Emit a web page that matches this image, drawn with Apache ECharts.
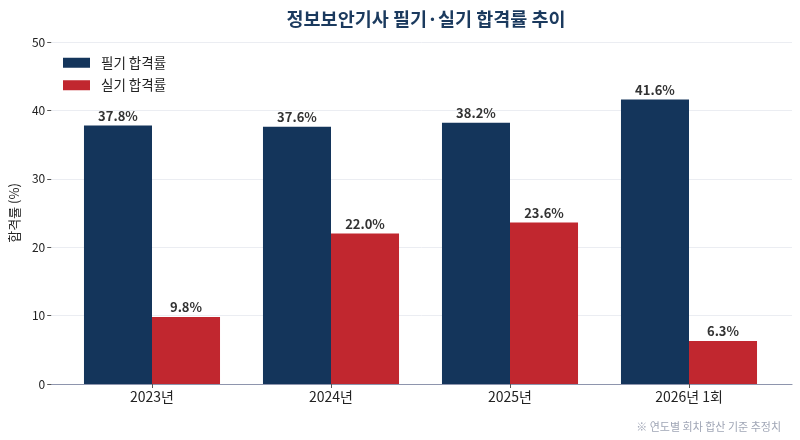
<!DOCTYPE html>
<html>
<head>
<meta charset="utf-8">
<script src="https://cdn.jsdelivr.net/npm/echarts@6/dist/echarts.min.js"></script>
<style>
  html, body { margin: 0; padding: 0; background: #fff; }
  #chart { width: 800px; height: 440px; }
</style>
</head>
<body>
<div id="chart"></div>
<script>
// 데이터
var categories = ["2023년", "2024년", "2025년", "2026년 1회"];
var writtenRate = [37.8, 37.6, 38.2, 41.6];   // 필기 합격률
var practicalRate = [9.8, 22.0, 23.6, 6.3];   // 실기 합격률
var yTicks = [0, 10, 20, 30, 40, 50];

var FONT = "Noto Sans CJK KR";
var chart = echarts.init(document.getElementById("chart"));

function barLabel() {
  return {
    show: true,
    position: "top",
    distance: 3,
    fontFamily: FONT,
    fontSize: 13,
    fontWeight: "bold",
    color: "#333",
    formatter: function (p) { return p.value.toFixed(1) + "%"; }
  };
}

var option = {
  backgroundColor: "#fff",
  textStyle: { fontFamily: FONT },
  title: [
    {
      text: "정보보안기사 필기·실기 합격률 추이",
      left: 421,
      textAlign: "center",
      top: 5,
      textStyle: { fontFamily: FONT, fontSize: 18.5, fontWeight: "bold", color: "#1b3a5e" }
    },
    {
      text: "※ 연도별 회차 합산 기준 추정치",
      right: 14,
      top: 416,
      textStyle: { fontFamily: FONT, fontSize: 11, fontWeight: "normal", color: "#a0a6b6" }
    }
  ],
  legend: {
    orient: "vertical",
    left: 58,
    top: 51,
    itemWidth: 27,
    itemHeight: 10,
    itemGap: 9,
    icon: "rect",
    textStyle: { fontFamily: FONT, fontSize: 13.5, color: "#222", padding: [0, 0, 0, 6] },
    data: ["필기 합격률", "실기 합격률"]
  },
  grid: [
    { left: 50, right: 8, top: 42, bottom: 56 },
    { left: 62.5, right: 21.5, top: 42, bottom: 56 }
  ],
  xAxis: [
    {
      gridIndex: 0,
      type: "category",
      data: categories,
      axisLine: { show: true, lineStyle: { color: "#8e95ad", width: 1.2 } },
      axisTick: { show: false },
      axisLabel: { show: false }
    },
    {
      gridIndex: 1,
      type: "category",
      data: categories,
      axisLine: { show: false },
      axisTick: { show: true, alignWithLabel: true, length: 4, lineStyle: { color: "#555" } },
      axisLabel: { fontFamily: FONT, fontSize: 14, color: "#222", margin: 6 }
    }
  ],
  yAxis: [
    {
      gridIndex: 0,
      type: "value",
      min: yTicks[0],
      max: yTicks[yTicks.length - 1],
      interval: 10,
      name: "합격률 (%)",
      nameLocation: "middle",
      nameGap: 30,
      nameTextStyle: { fontFamily: FONT, fontSize: 13, color: "#222" },
      axisLine: { show: false },
      axisTick: { show: true, length: 4, lineStyle: { color: "#555" } },
      axisLabel: { fontFamily: FONT, fontSize: 12, color: "#222", margin: 6 },
      splitLine: { show: true, lineStyle: { color: "#ebedf2", width: 1 } }
    },
    {
      gridIndex: 1,
      type: "value",
      min: 0,
      max: 50,
      show: false,
      splitLine: { show: false }
    }
  ],
  series: [
    {
      name: "필기 합격률",
      type: "bar",
      xAxisIndex: 1,
      yAxisIndex: 1,
      data: writtenRate,
      barGap: "0%",
      barCategoryGap: "24%",
      itemStyle: { color: "#14355b" },
      label: barLabel()
    },
    {
      name: "실기 합격률",
      type: "bar",
      xAxisIndex: 1,
      yAxisIndex: 1,
      data: practicalRate,
      itemStyle: { color: "#c1272f" },
      label: barLabel()
    }
  ]
};

chart.setOption(option);
</script>
</body>
</html>
